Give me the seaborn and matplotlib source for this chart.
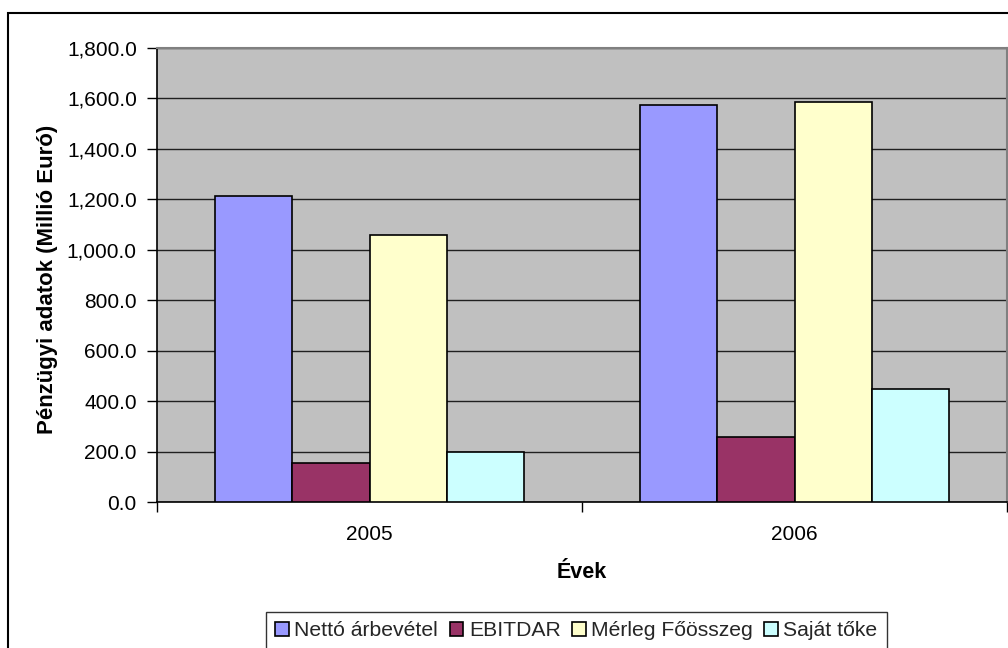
import matplotlib
matplotlib.use("Agg")
import matplotlib.pyplot as plt
import matplotlib.ticker as mticker
from matplotlib.patches import Rectangle
import seaborn as sns
import pandas as pd

years = ["2005", "2006"]
series = ["Nettó árbevétel", "EBITDAR", "Mérleg Főösszeg", "Saját tőke"]
netto = [1214, 1574]
ebitdar = [153, 258]
merleg = [1057, 1586]
sajat = [198, 448]
colors = ["#9999FF", "#993366", "#FFFFCC", "#CCFFFF"]

rows = []
for s, vals in zip(series, [netto, ebitdar, merleg, sajat]):
    for y, v in zip(years, vals):
        rows.append({"Évek": y, "Sorozat": s, "Érték": v})
df = pd.DataFrame(rows)

sns.set_theme(style="white")
plt.rcParams["font.family"] = ["Liberation Sans", "DejaVu Sans"]

W, H = 1008, 648
fig = plt.figure(figsize=(W / 100, H / 100), dpi=100)
fig.patch.set_facecolor("white")

L, R, T, B = 157, 1007, 47.7, 502
ax = fig.add_axes([L / W, 1 - B / H, (R - L) / W, (B - T) / H])
ax.set_facecolor("#C0C0C0")

sns.barplot(data=df, x="Évek", y="Érték", hue="Sorozat", hue_order=series,
            order=years, palette=colors, width=0.727, edgecolor="black",
            linewidth=1.2, saturation=1, ax=ax, legend=True, errorbar=None,
            zorder=3)

ax.set_xlim(-0.5, 1.5)
ax.set_ylim(0, 1800)
ax.yaxis.set_major_locator(mticker.MultipleLocator(200))
ax.yaxis.set_major_formatter(mticker.FuncFormatter(lambda v, p: f"{v:,.1f}"))
ax.grid(axis="y", color="#202020", linewidth=1.0, zorder=0)
ax.set_axisbelow(True)

# category boundary ticks (major) and labels (minor)
ax.set_xticks([-0.5, 0.5, 1.5])
ax.set_xticklabels(["", "", ""])
ax.set_xticks([0, 1], minor=True)
ax.set_xticklabels(years, minor=True)
ax.tick_params(axis="x", which="major", direction="out", length=7, width=1,
               color="black", bottom=True)
ax.tick_params(axis="x", which="minor", length=0, pad=16.5, labelsize=15,
               labelcolor="black")
ax.tick_params(axis="y", direction="out", length=7, width=1, color="black",
               left=True, labelsize=15, labelcolor="black", pad=7.5)

for side in ["left", "bottom"]:
    ax.spines[side].set_color("black")
    ax.spines[side].set_linewidth(1.2)
for side in ["top", "right"]:
    ax.spines[side].set_color("#808080")
    ax.spines[side].set_linewidth(1.5)
    ax.spines[side].set_visible(True)

ax.set_xlabel("Évek", fontsize=15.5, fontweight="bold", color="black")
ax.set_ylabel("Pénzügyi adatok (Millió Euró)", fontsize=16,
              fontweight="bold", color="black")
ax.xaxis.set_label_coords(0.5, -0.132)
ax.yaxis.set_label_coords(-0.117, 0.49)

handles, labels = ax.get_legend_handles_labels()
ax.get_legend().remove()
leg = fig.legend(handles, labels, loc="upper center",
                 bbox_to_anchor=(576.5 / W, 1 - 611.5 / H), ncol=4,
                 fontsize=15.2, frameon=True, fancybox=False,
                 edgecolor="black", handlelength=0.65, handleheight=0.65,
                 handletextpad=0.25, columnspacing=0.55, borderpad=0.45,
                 borderaxespad=0)
leg.get_frame().set_linewidth(1.0)

# outer chart frame
fig.patches.append(Rectangle((8 / W, -0.1), 1.2, 1 - 13 / H + 0.1,
                             transform=fig.transFigure, fill=False,
                             edgecolor="black", linewidth=1.5, zorder=0))

fig.savefig("out.png", dpi=100)
